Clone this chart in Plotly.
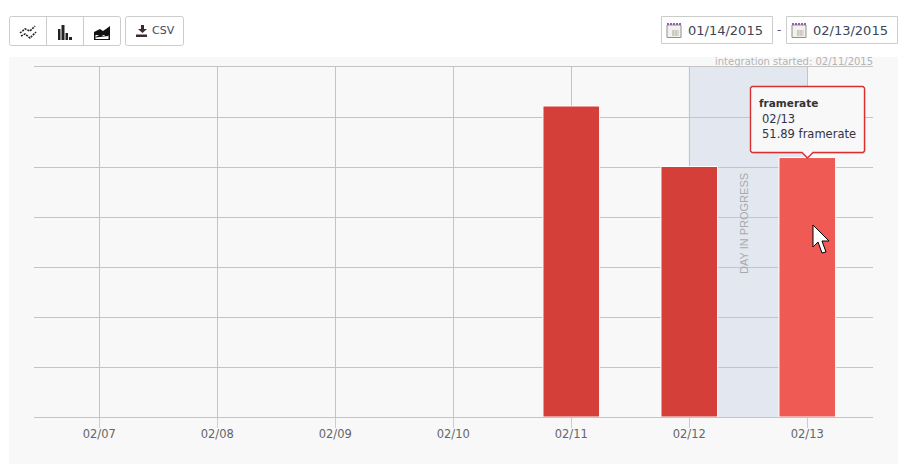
import plotly.graph_objects as go

W, H = 908, 464
categories = ["02/07", "02/08", "02/09", "02/10", "02/11", "02/12", "02/13"]
values = [None, None, None, None, 62.2, 50.1, 51.89]
bar_colors = ["#d43f3a"] * 6 + ["#f05a55"]
y_ticks = [0, 10, 20, 30, 40, 50, 60, 70]

def X(p): return p / W
def Y(p): return 1 - p / H

def path(cmds):
    out = []
    for c in cmds:
        if isinstance(c, str):
            out.append(c)
        else:
            out.append(f"{X(c[0]):.5f},{Y(c[1]):.5f}")
    s = ""
    for o in out:
        s += (" " + o) if "," in o else o
    return s

shapes = []
def rect(x0, y0, x1, y1, fill=None, line=None, lw=1, layer="below"):
    shapes.append(dict(type="rect", xref="paper", yref="paper", x0=X(x0), x1=X(x1), y0=Y(y0), y1=Y(y1),
                       fillcolor=fill or "rgba(0,0,0,0)", line=dict(color=line or "rgba(0,0,0,0)", width=lw if line else 0), layer=layer))
def poly(pts, fill=None, line=None, lw=1, close=True, layer="above", dash=None):
    cmds = ["M", pts[0]]
    for p in pts[1:]:
        cmds += ["L", p]
    if close:
        cmds.append("Z")
    ln = dict(color=line or "rgba(0,0,0,0)", width=lw if line else 0)
    if dash:
        ln["dash"] = dash
    shapes.append(dict(type="path", xref="paper", yref="paper", path=path(cmds),
                       fillcolor=fill or "rgba(0,0,0,0)", line=ln, layer=layer))
def rrect(x0, y0, x1, y1, r=2, fill="#ffffff", line="#cccccc", lw=1, layer="below"):
    cmds = ["M", (x0 + r, y0), "L", (x1 - r, y0), "Q", (x1, y0), (x1, y0 + r), "L", (x1, y1 - r), "Q", (x1, y1), (x1 - r, y1),
            "L", (x0 + r, y1), "Q", (x0, y1), (x0, y1 - r), "L", (x0, y0 + r), "Q", (x0, y0), (x0 + r, y0), "Z"]
    shapes.append(dict(type="path", xref="paper", yref="paper", path=path(cmds), fillcolor=fill,
                       line=dict(color=line, width=lw), layer=layer))

# panel
rect(9, 57, 898, 464, fill="#f8f8f8")
# in-progress band on data axes
shapes.append(dict(type="rect", xref="x", yref="paper", x0=4.995, x1=6, y0=Y(417), y1=Y(67),
                   fillcolor="#e3e8f0", line=dict(width=0), layer="below"))

# toolbar
rrect(9.5, 16.5, 120.5, 45.5)
rrect(125.5, 16.5, 183.5, 45.5)
poly([(46.5, 17), (46.5, 45)], line="#cccccc", close=False, layer="below")
poly([(83.5, 17), (83.5, 45)], line="#cccccc", close=False, layer="below")
# line icon (two dotted zigzags)
poly([(20, 33), (25, 29), (30, 31), (35, 26)], line="#222222", lw=1.6, close=False, dash="2px,1px")
poly([(21, 36), (25, 34), (30, 38), (36, 32)], line="#222222", lw=1.6, close=False, dash="2px,1px")
# bar icon
for x0, x1, y0 in [(58, 60.5, 29), (61.5, 64.5, 25), (65.5, 68, 33), (69, 72, 37)]:
    rect(x0, y0, x1, 40, fill="#222222", layer="above")
# area icon
poly([(94, 40), (94, 32), (100, 29), (103, 31), (106, 29), (110, 26), (110, 40)], fill="#111111")
rect(95.5, 35, 108.5, 39, fill="#ffffff", layer="above")
poly([(95.5, 37), (100, 34.5), (104, 36), (108.5, 32), (108.5, 36), (95.5, 37.5)], fill="#111111")
# download icon
poly([(141, 25), (144, 25), (144, 29), (147, 29), (142.5, 33), (138, 29), (141, 29)], fill="#3a2a35")
rect(136, 34.5, 147, 37, fill="#3a2a35", layer="above")

# date boxes + calendar icons
for x0 in (661.5, 786.5):
    rect(x0, 16.5, x0 + 111, 43.5, fill="#ffffff", line="#cccccc")
    cx = x0 + 5.5
    rect(cx, 25, cx + 14, 37.5, fill="#f3f1ea", line="#8f8f8f", layer="above")
    poly([(cx, 24), (cx + 14, 24)], line="#8e5fb5", lw=2.2, close=False, dash="2px,1px")
    for gy in (31, 33, 35):
        poly([(cx + 5, gy), (cx + 12, gy)], line="#c0bfb8", close=False)
    for gx in (cx + 6, cx + 9):
        poly([(gx, 30), (gx, 36)], line="#c0bfb8", close=False)

# tooltip
rrect(752, 88, 866, 154, r=3, fill="rgba(0,0,0,0.07)", line="rgba(0,0,0,0)", lw=0, layer="above")
poly([(752, 86.5), (863, 86.5), (864.5, 88), (864.5, 151), (863, 152.5), (813, 152.5), (807.5, 158), (802, 152.5), (752, 152.5), (750.5, 151), (750.5, 88)],
     fill="#f8f8f9", line="#d8302f", lw=1.4)
# cursor
poly([(813, 225), (813, 247), (818, 242), (822, 253), (826, 252), (822, 241), (829, 241)], fill="#ffffff", line="#000000", lw=1)

FONT = "DejaVu Sans"
def txt(x, y, s, size=11, color="#333333", anchor="left", angle=0, font=FONT):
    return dict(xref="paper", yref="paper", x=X(x), y=Y(y), text=s, showarrow=False, xanchor=anchor, yanchor="middle",
                textangle=angle, font=dict(family=font, size=size, color=color), borderpad=0, borderwidth=0)

annotations = [
    txt(152, 31, "CSV", 11, "#3d4a66"),
    txt(688, 30, "01/14/2015", 13, "#3c4658"),
    txt(813, 30, "02/13/2015", 13, "#3c4658"),
    txt(779, 30, "-", 12, "#555555", anchor="center"),
    txt(873, 61, "integration started: 02/11/2015", 10, "#b3b3b3", anchor="right"),
    txt(744, 224, "DAY IN PROGRESS", 11, "#a9a9a9", anchor="center", angle=-90, font="Liberation Sans"),
    txt(759, 102.5, "<b>framerate</b>", 10.5, "#333333"),
    txt(762, 118.5, "02/13", 11.5, "#333344"),
    txt(762, 134.5, "51.89 framerate", 11.5, "#333344"),
]

fig = go.Figure(go.Bar(x=list(range(len(categories))), y=values, width=0.48,
                       marker=dict(color=bar_colors, line=dict(color="#ffffff", width=1)), hoverinfo="skip"))
fig.update_layout(
    width=W, height=H, autosize=False, margin=dict(l=0, r=0, t=0, b=0),
    paper_bgcolor="#ffffff", plot_bgcolor="rgba(0,0,0,0)", showlegend=False,
    shapes=shapes, annotations=annotations, font=dict(family=FONT),
    xaxis=dict(domain=[X(34), X(873)], range=[(34 - 99.3) / 118, (873 - 99.3) / 118],
               tickmode="array", tickvals=list(range(len(categories))), ticktext=categories,
               showgrid=True, gridcolor="#c4c4c4", gridwidth=1, zeroline=False,
               ticks="outside", ticklen=10, tickcolor="#c0d0e0", tickwidth=1, ticklabelstandoff=-4,
               showline=True, linecolor="#c4c4c4", linewidth=1, mirror=True,
               tickfont=dict(family=FONT, size=11.5, color="#666666")),
    yaxis=dict(domain=[Y(417), Y(67)], range=[0, 70], tickmode="array", tickvals=y_ticks,
               showticklabels=False, showgrid=True, gridcolor="#c4c4c4", gridwidth=1, zeroline=False, showline=False, ticks=""),
)
fig.write_html("out.html", config={"displayModeBar": False}, post_script="document.body.style.margin='0';document.body.style.overflow='hidden';")
